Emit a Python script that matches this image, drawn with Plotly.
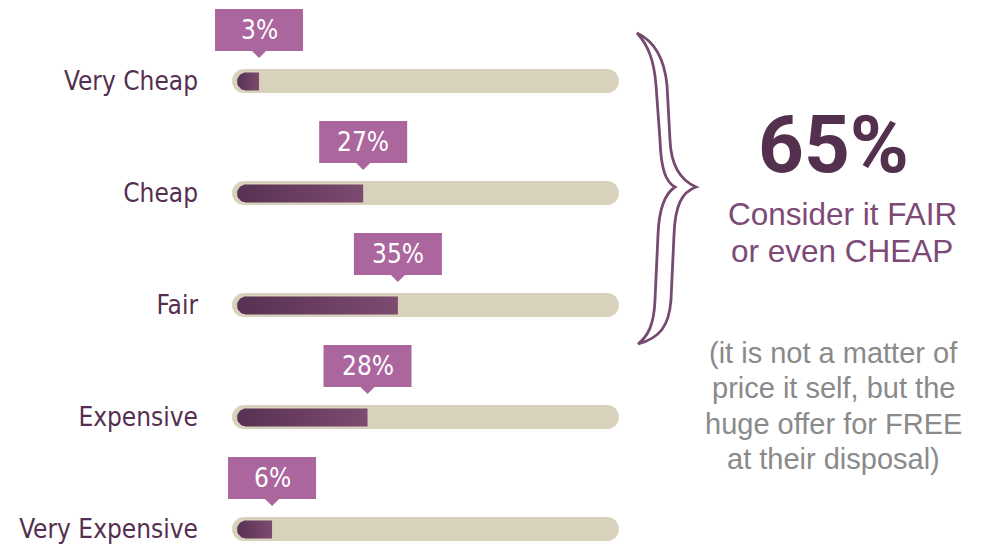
import math
import plotly.graph_objects as go

# Survey answers: how the price is perceived
categories = ["Very Cheap", "Cheap", "Fair", "Expensive", "Very Expensive"]
shares = [3, 27, 35, 28, 6]          # percent of respondents
value_labels = ["3%", "27%", "35%", "28%", "6%"]

headline = "65%"
headline_note = ["Consider it FAIR", "or even CHEAP"]
side_note = ["(it is not a matter of", "price it self, but the",
             "huge offer for FREE", "at their disposal)"]

# ---- canvas geometry (pixels) ----
W, H = 981, 545
LEFT = 205                 # plot area starts here, labels sit to its left
X0, K = 246.0, 4.34        # pixel of 0 % and pixels per percent
Y0, S = 81.0, 112.0        # pixel of first row centre and row pitch

PURPLE_DARK = "#552f4f"
CALLOUT = "#aa669d"
TRACK = "#d8d1bb"
LABEL_FONT = "Liberation Sans Narrow, DejaVu Sans Condensed, sans-serif"


def dx(p):
    """pixel x -> data x"""
    return (p - X0) / K


def dy(p):
    """pixel y -> data y (row index)"""
    return (p - Y0) / S


def capsule(xl, xr, cy, r, round_left=True, round_right=True, n=20):
    """Outline of a horizontal bar with optional half-round ends (pixels)."""
    pts = []
    if round_right:
        for k in range(n + 1):
            a = -math.pi / 2 + math.pi * k / n
            pts.append((xr + r * math.cos(a), cy + r * math.sin(a)))
    else:
        pts += [(xr, cy - r), (xr, cy + r)]
    if round_left:
        for k in range(n + 1):
            a = math.pi / 2 + math.pi * k / n
            pts.append((xl + r * math.cos(a), cy + r * math.sin(a)))
    else:
        pts += [(xl, cy + r), (xl, cy - r)]
    pts.append(pts[0])
    return [dx(p[0]) for p in pts], [dy(p[1]) for p in pts]


fig = go.Figure()

for i, (cat, v) in enumerate(zip(categories, shares)):
    cy = Y0 + S * i
    # background track
    tx, ty = capsule(244, 607, cy, 12)
    fig.add_trace(go.Scatter(x=tx, y=ty, mode="lines", fill="toself",
                             fillcolor=TRACK, line=dict(width=0),
                             hoverinfo="skip", showlegend=False))
    # value bar: round cap centred on 0 %, square end at the value
    end_px = X0 + K * v
    fx, fy = capsule(X0, end_px, cy + 0.5, 9, round_left=True, round_right=False)
    fig.add_trace(go.Scatter(
        x=fx, y=fy, mode="lines", fill="toself", line=dict(width=0),
        fillcolor="#6a3f60",
        fillgradient=dict(type="horizontal",
                          colorscale=[[0, "#573152"], [1, "#7d4b70"]]),
        name=cat, hovertemplate=f"{cat}: {v}%<extra></extra>",
        showlegend=False))

    # callout box with a small pointer to the bar end
    bl, br = v - 44 / K, v + 44 / K
    bt, bb = i - 72 / S, i - 30 / S
    tip = i - 23 / S
    tw = 7 / K
    path = (f"M {bl},{bt} L {br},{bt} L {br},{bb} L {v + tw},{bb} "
            f"L {v},{tip} L {v - tw},{bb} L {bl},{bb} Z")
    fig.add_shape(type="path", path=path, xref="x", yref="y",
                  fillcolor=CALLOUT, line=dict(width=0), layer="above")
    fig.add_annotation(x=v, y=i - 51 / S, xref="x", yref="y",
                       text=value_labels[i], showarrow=False,
                       font=dict(family=LABEL_FONT, size=26, color="white"),
                       xanchor="center", yanchor="middle")

# hand-drawn style curly brace drawn as a double stroke (pixels -> data)
outer = [(637, 33), "C", (652, 40), (664, 55), (667, 85), "L", (670, 140),
         "C", (671, 166), (680, 180), (696, 187),
         "C", (682, 192), (675, 205), (674, 235), "L", (671, 300),
         "C", (669, 326), (660, 338), (638, 344)]
inner = ["C", (648, 336), (654, 325), (655, 300), "L", (658, 235),
         "C", (659, 205), (666, 193), (675, 187),
         "C", (666, 182), (661, 170), (660, 140), "L", (656, 85),
         "C", (654, 60), (648, 45), (637, 33)]
parts = ["M"]
for item in outer + inner:
    if isinstance(item, str):
        parts.append(item)
    else:
        parts.append(f"{dx(item[0]):.4f},{dy(item[1]):.4f}")
parts.append("Z")
fig.add_shape(type="path", path=" ".join(parts), xref="x", yref="y",
              fillcolor="white", line=dict(color="#774a70", width=2.8),
              layer="above")

# right-hand statements
fig.add_annotation(x=dx(833), y=dy(145), xref="x", yref="y", text=f"<b>{headline}</b>",
                   showarrow=False, xanchor="center", yanchor="middle",
                   font=dict(family="Roboto, Liberation Sans, sans-serif", size=80,
                             color="#54304f", weight=900))
for k, line in enumerate(headline_note):
    fig.add_annotation(x=dx(842), y=dy(214 + 37 * k), xref="x", yref="y", text=line,
                       showarrow=False, xanchor="center", yanchor="middle",
                       font=dict(family="Liberation Sans, Arial, sans-serif", size=31.5,
                                 color="#7d4a78"))
for k, line in enumerate(side_note):
    fig.add_annotation(x=dx(833), y=dy(353 + 35.3 * k), xref="x", yref="y", text=line,
                       showarrow=False, xanchor="center", yanchor="middle",
                       font=dict(family="Liberation Sans, Arial, sans-serif", size=29,
                                 color="#8a8a8a"))

fig.update_layout(
    width=W, height=H,
    margin=dict(l=LEFT, r=0, t=0, b=0),
    paper_bgcolor="white", plot_bgcolor="white",
    xaxis=dict(range=[dx(LEFT), dx(W)], visible=False, fixedrange=True),
    yaxis=dict(range=[dy(H), dy(0)], tickvals=list(range(len(categories))),
               ticktext=categories, showgrid=False, zeroline=False, showline=False,
               ticks="", ticklabelstandoff=6, ticklabeloverflow="allow",
               fixedrange=True,
               tickfont=dict(family=LABEL_FONT, size=26, color=PURPLE_DARK)),
    showlegend=False,
)

fig.write_html("out.html")
